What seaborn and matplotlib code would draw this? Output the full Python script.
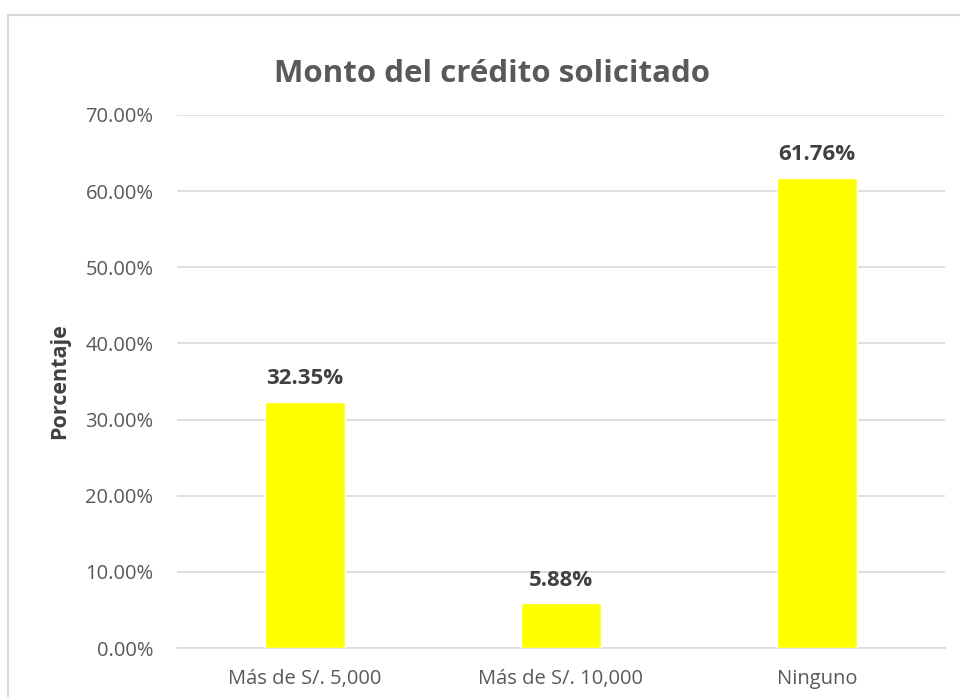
import pandas as pd
import numpy as np
import matplotlib
matplotlib.use('Agg')
import matplotlib.pyplot as plt
import seaborn as sns
from matplotlib.patches import Rectangle
from matplotlib.ticker import FuncFormatter, FixedLocator

# datos
categorias = ['Más de S/. 5,000', 'Más de S/. 10,000', 'Ninguno']
porcentajes = [32.35, 5.88, 61.76]
etiquetas = ['32.35%', '5.88%', '61.76%']
yticks = [0, 10, 20, 30, 40, 50, 60, 70]

sns.set_style('white')
plt.rcParams['font.family'] = ['Open Sans', 'DejaVu Sans']

df = pd.DataFrame({'categoria': categorias, 'porcentaje': porcentajes})

fig = plt.figure(figsize=(9.6, 6.97), dpi=100)
ax = fig.add_axes([177/960, 1-648/697, (945-177)/960, (648-115)/697])

sns.barplot(data=df, x='categoria', y='porcentaje', color='#ffff00',
            width=0.3125, saturation=1, ax=ax, zorder=3)

ax.set_xlim(-0.5, 2.5)
ax.set_ylim(0, 70)
ax.set_yticks(yticks)
ax.yaxis.set_major_formatter(FuncFormatter(lambda v, p: f'{v:.2f}%'))
ax.yaxis.grid(True, color='#d9d9d9', linewidth=1.2, zorder=0)
ax.tick_params(axis='y', length=0, pad=17, labelsize=14.5, labelcolor='#595959')
ax.tick_params(axis='x', length=0, pad=15, labelsize=14.5, labelcolor='#595959')
# marcas entre categorias estilo excel
ax.xaxis.set_minor_locator(FixedLocator([-0.5, 0.5, 1.5, 2.5]))
ax.tick_params(axis='x', which='minor', length=6, color='#d0d0d0', width=1.2)

for s in ['top', 'right', 'left']:
    ax.spines[s].set_visible(False)
ax.spines['bottom'].set_color('#d9d9d9')
ax.spines['bottom'].set_linewidth(1.2)

ax.set_xlabel('')
ax.set_ylabel('Porcentaje', fontsize=15.5, fontweight='bold', color='#404040', labelpad=11)

for i, (v, t) in enumerate(zip(porcentajes, etiquetas)):
    ax.annotate(t, (i, v), xytext=(0, 9), textcoords='offset points',
                ha='center', va='bottom', fontsize=16, fontweight='bold', color='#404040')

fig.text(492/960, 1-82/697, 'Monto del crédito solicitado', ha='center', va='baseline',
         fontsize=22.5, fontweight='bold', color='#595959')

# borde del area del grafico
fig.patches.append(Rectangle((8/960, -0.05), 1.2, 1-15/697+0.05, transform=fig.transFigure,
                             fill=False, edgecolor='#d9d9d9', linewidth=1.5))

fig.savefig('out.png', dpi=100)
